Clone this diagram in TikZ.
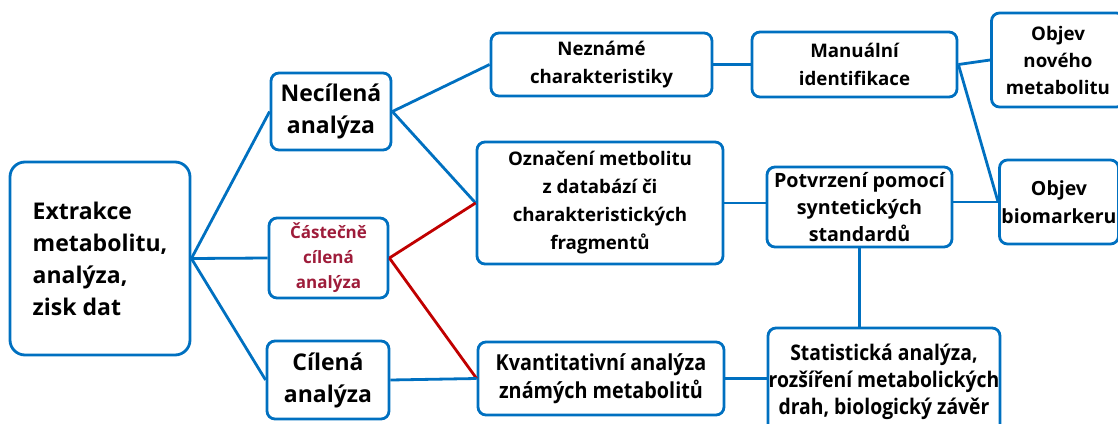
\documentclass[tikz,border=0pt]{standalone}
\usepackage{fontspec}
\setmainfont{Open Sans}
\newfontfamily\narrowfont[FakeStretch=0.9]{Open Sans}
\usetikzlibrary{positioning}
\definecolor{boxblue}{HTML}{0070C0}
\definecolor{linkred}{HTML}{C00000}
\definecolor{textred}{HTML}{9E1C3A}

\begin{document}
\begin{tikzpicture}[x=1pt, y=-1pt,
  box/.style={draw=boxblue, line width=2.8pt, rounded corners=8pt, align=center,
    inner sep=2pt, font=\bfseries\fontsize{18.7}{28}\selectfont},
  bigbox/.style={box, font=\bfseries\fontsize{23}{32}\selectfont},
  smallbox/.style={box, font=\bfseries\fontsize{17}{25}\selectfont},
  widebox/.style={box, inner sep=0pt, font=\narrowfont\bfseries\fontsize{22}{28}\selectfont},
  link/.style={draw=boxblue, line width=2.8pt},
  redlink/.style={draw=linkred, line width=2.8pt}]
\useasboundingbox (0,0) rectangle (1118,423);

\node[bigbox, rounded corners=15pt, minimum width=180pt, minimum height=193pt, align=left]
  (extrakce) at (100,258.5) {Extrakce\\metabolitu,\\analýza,\\zisk dat};
\node[bigbox, minimum width=120pt, minimum height=77pt] (necilena) at (331,111.5) {Necílená\\analýza};
\node[smallbox, text=textred, minimum width=119pt, minimum height=80pt] (castecne) at (328.5,258) {Částečně\\cílená\\analýza};
\node[bigbox, minimum width=122pt, minimum height=78pt] (cilena) at (328,380) {Cílená\\analýza};

\node[box, minimum width=221pt, minimum height=63pt] (nezname) at (601.5,64.5) {Neznámé\\charakteristiky};
\node[box, minimum width=246pt, minimum height=122pt] (oznaceni) at (600,203) {Označení metbolitu\\z databází či\\charakteristických\\fragmentů};
\node[widebox, minimum width=246pt, minimum height=73pt] (kvant) at (601,378.5) {Kvantitativní analýza\\známých metabolitů};

\node[box, minimum width=205pt, minimum height=65pt] (manualni) at (854.5,64.5) {Manuální\\identifikace};
\node[box, font=\bfseries\fontsize{19.7}{27}\selectfont, minimum width=185pt, minimum height=80pt]
  (potvrzeni) at (859.5,207) {Potvrzení pomocí\\syntetických\\standardů};
\node[widebox, font=\narrowfont\bfseries\fontsize{21.5}{27}\selectfont, minimum width=232pt, minimum height=108pt]
  (statistika) at (884,382) {Statistická analýza,\\rozšíření metabolických\\drah, biologický závěr};

\node[box, font=\bfseries\fontsize{18.7}{27}\selectfont, minimum width=133pt, minimum height=94pt]
  (novy) at (1058,60) {Objev\\nového\\metabolitu};
\node[box, font=\bfseries\fontsize{19.5}{28}\selectfont, minimum width=116pt, minimum height=84pt]
  (biomarker) at (1059,202) {Objev\\biomarkeru};

\draw[link] (extrakce.east) -- (necilena.west);
\draw[link] (extrakce.east) -- (castecne.west);
\draw[link] (extrakce.east) -- (cilena.west);
\draw[link] (necilena.east) -- (nezname.west);
\draw[link] (necilena.east) -- (oznaceni.west);
\draw[redlink] (castecne.east) -- (oznaceni.west);
\draw[redlink] (castecne.east) -- (kvant.west);
\draw[link] (cilena.east) -- (kvant.west);
\draw[link] (nezname.east) -- (manualni.west);
\draw[link] (manualni.east) -- (novy.west);
\draw[link] (manualni.east) -- (biomarker.west);
\draw[link] (oznaceni.east) -- (oznaceni.east -| potvrzeni.west);
\draw[link] (potvrzeni.east |- biomarker.west) -- (biomarker.west);
\draw[link] (potvrzeni.south) -- (potvrzeni.south |- statistika.north);
\draw[link] (kvant.east) -- (kvant.east -| statistika.west);
\end{tikzpicture}
\end{document}
